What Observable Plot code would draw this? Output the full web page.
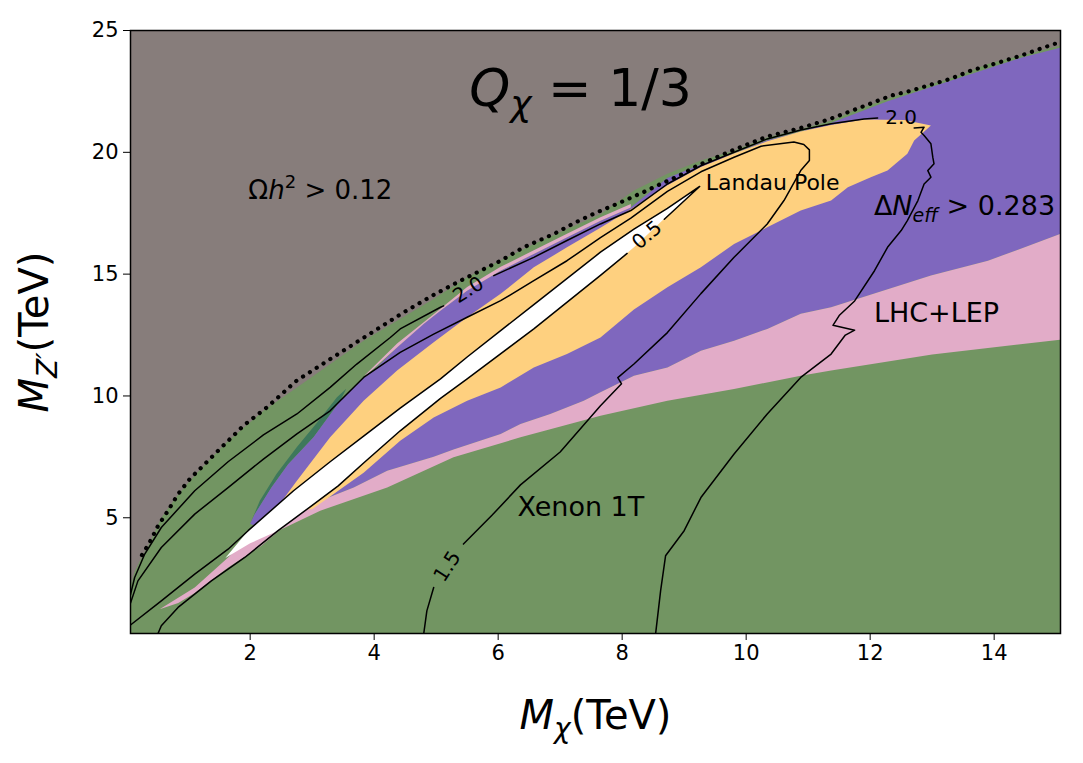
<!DOCTYPE html>
<html><head><meta charset="utf-8">
<script src="https://cdn.jsdelivr.net/npm/d3@7"></script>
<script src="https://cdn.jsdelivr.net/npm/@observablehq/plot@0.6"></script>
<style>body{margin:0;background:#fff;} svg{display:block;}</style>
</head><body>
<div id="chart"></div>
<script>
// ---------- axis ticks ----------
const xTicks = [2, 4, 6, 8, 10, 12, 14];
const yTicks = [5, 10, 15, 20, 25];

// ---------- region boundaries (M_chi TeV, M_Z' TeV) ----------
// upper edge of all coloured regions (boundary with Omega h^2 > 0.12)
const topEdge = [[0.07,2.2],[0.14,2.8],[0.255,3.4],[0.379,3.95],[0.567,5.0],[0.837,5.95],[1.106,6.75],[1.374,7.45],[1.644,8.15],[2.214,9.39],[2.754,10.35],[3.291,11.31],[3.829,12.27],[4.369,13.09],[4.906,13.9],[5.499,14.87],[6.575,16.24],[7.652,17.47],[8.19,18.43],[8.729,19.12],[9.268,19.66],[9.805,20.07],[10.344,20.62],[10.882,20.96],[11.366,21.3],[11.743,21.72],[12.282,22.2],[12.819,22.67],[13.357,23.08],[13.897,23.63],[14.435,23.97],[15.07,24.38]];
// relic-density boundary points (dotted)
const omegaDots = [[0.255,3.47],[0.379,3.99],[0.514,4.67],[0.675,5.29],[0.837,5.97],[1.025,6.59],[1.187,7.0],[1.348,7.41],[1.51,7.82],[1.73,8.37],[1.89,8.78],[2.27,9.53],[2.75,10.63],[3.67,12.13],[4.475,13.43],[4.96,14.15],[5.39,14.73],[6.04,15.55],[6.41,16.1],[6.9,16.65],[7.22,17.09],[7.57,17.51],[7.96,17.93],[8.33,18.35],[8.62,18.7],[8.89,19.0],[9.21,19.45],[9.8,20.1],[10.34,20.65],[10.88,21.0],[11.31,21.33],[11.74,21.74],[12.34,22.33],[12.66,22.53],[12.93,22.74],[13.3,23.02],[13.63,23.36],[14.0,23.63],[14.43,23.97],[14.97,24.45],[15.07,24.5]];
// Delta N_eff region
const purpleTop = [[2.0,4.75],[2.075,5.15],[2.343,6.24],[2.613,7.2],[3.022,8.3],[3.453,9.8],[3.829,10.76],[3.991,11.04],[4.369,11.99],[4.798,12.95],[5.068,13.5],[5.499,14.32],[6.037,15.14],[6.575,15.83],[7.114,16.51],[7.652,17.19],[8.137,17.74],[8.729,18.95],[9.268,19.5],[9.805,19.95],[10.344,20.5],[10.882,20.85],[11.366,21.2],[12.282,22.1],[13.357,22.99],[14.435,23.88],[15.07,24.3]];
const purpleBottom = [[2.0,4.75],[2.3,4.45],[2.59,5.15],[3.13,5.7],[3.67,6.24],[4.21,6.93],[4.96,7.5],[5.28,7.8],[6.04,8.44],[6.36,8.85],[6.84,9.26],[7.38,9.8],[7.65,10.15],[8.19,10.83],[8.73,11.17],[9.27,11.86],[9.805,12.27],[10.34,12.75],[10.88,13.37],[11.37,13.64],[12.98,14.94],[13.9,15.55],[15.07,16.65]];
// dark green sliver at the left tip of the Delta N_eff region
const darkStripOuter = [[2.0,4.75],[2.156,5.7],[2.424,6.8],[2.754,7.9],[3.077,8.9],[3.4,9.95],[3.55,10.3]];
const darkStripInner = [[2.0,4.75],[2.075,5.15],[2.343,6.24],[2.613,7.2],[3.022,8.3],[3.453,9.8],[3.55,10.3]];
// thin pink sliver above the purple band
const pinkSliverTop = [[3.85,10.85],[4.37,12.15],[4.96,13.35],[5.5,14.47],[6.04,15.3],[6.575,15.98],[7.11,16.66],[7.65,17.34],[8.14,17.88]];
const pinkSliverBottom = [[3.85,10.8],[4.369,11.99],[4.798,12.95],[5.068,13.5],[5.499,14.32],[6.037,15.14],[6.575,15.83],[7.114,16.51],[7.652,17.19],[8.14,17.74]];
// LHC+LEP region
const pinkTipTop = [[0.54,1.25],[1.106,2.14],[1.644,3.37],[1.967,4.2]];
const greenEdge = [[0.54,1.25],[0.84,1.5],[1.1,1.9],[1.64,2.95],[2.18,3.85],[2.48,4.5],[3.13,5.29],[4.21,6.24],[5.28,7.48],[6.36,8.3],[7.65,9.19],[8.73,9.8],[9.805,10.29],[10.88,10.83],[11.37,11.04],[13.0,11.7],[15.07,12.31]];
// Landau pole region
const yellowTop = [[2.4,5.3],[2.754,6.52],[3.29,8.3],[3.83,9.8],[4.37,11.04],[4.96,12.2],[5.5,13.23],[6.04,14.19],[6.575,15.28],[7.11,16.1],[7.65,16.9],[8.19,17.75],[8.73,18.65],[9.27,19.4],[9.805,19.95],[10.34,20.45],[10.88,20.85],[11.37,21.12],[11.9,21.35],[12.55,21.33],[12.98,21.1]];
const yellowBottom = [[2.4,5.3],[3.0,5.35],[3.83,6.85],[4.42,8.16],[4.96,9.12],[5.5,9.8],[6.04,10.35],[6.575,11.17],[7.11,11.72],[7.65,12.4],[8.19,13.55],[8.73,14.46],[9.27,15.28],[9.805,16.24],[10.34,16.92],[10.88,17.61],[11.37,18.02],[11.64,18.57],[12.01,18.98],[12.28,19.25],[12.6,19.94],[12.71,20.48],[12.98,21.1]];
// allowed (white) wedge
const whiteTop = [[1.6,3.35],[1.967,4.47],[2.7,6.11],[3.29,7.3],[3.83,8.35],[4.42,9.5],[5.07,10.7],[5.5,11.6],[6.575,13.75],[7.65,15.9],[8.19,16.85],[8.73,17.7],[9.25,18.6]];
const whiteBottom = [[1.6,3.35],[2.0,3.95],[2.45,4.47],[2.99,5.49],[3.42,6.31],[3.83,7.25],[4.42,8.57],[5.07,9.9],[5.5,10.7],[6.575,12.75],[7.65,14.95],[8.19,16.1],[8.73,17.4],[9.25,18.6]];

// ---------- contour lines (NaN = gap for inline label) ----------
const contour05 = [[0.514,0.25],[0.567,0.565],[0.837,1.32],[1.374,2.41],[1.913,3.37],[2.45,4.47],[2.99,5.49],[3.42,6.31],[3.83,7.25],[4.42,8.57],[5.07,9.9],[5.5,10.7],[6.575,12.75],[7.65,14.95],[8.08,15.85],[NaN,NaN],[8.68,17.25],[9.25,18.6],[8.73,17.7],[8.19,16.85],[7.65,15.9],[6.575,13.75],[5.5,11.6],[5.07,10.7],[4.42,9.5],[3.83,8.35],[3.29,7.3],[2.7,6.11],[1.967,4.47],[1.644,3.71],[1.106,2.69],[0.567,1.59],[0.07,0.6]];
const contour15 = [[0.07,1.5],[0.19,2.41],[0.567,3.78],[1.106,5.15],[1.644,6.24],[2.214,7.41],[2.754,8.44],[3.29,9.39],[3.83,10.76],[4.42,11.79],[4.96,12.54],[5.5,13.23],[6.04,13.91],[6.575,14.73],[7.11,15.55],[7.65,16.5],[8.14,17.3],[8.73,18.4],[9.27,19.2],[9.805,19.8],[10.24,20.25],[10.77,20.42],[10.93,20.32],[11.02,20.1],[11.02,19.66],[10.88,19.25],[10.61,18.02],[10.34,17.06],[9.805,15.69],[9.27,14.2],[8.73,12.6],[8.19,11.31],[7.93,10.75],[7.99,10.5],[7.65,9.6],[7.0,7.7],[6.36,6.35],[5.9,5.1],[5.44,3.92],[NaN,NaN],[4.96,2.14],[4.85,1.18],[4.8,0.25]];
const contour20 = [[0.07,1.85],[0.137,2.55],[0.3,3.51],[0.567,4.6],[1.106,6.11],[1.644,7.3],[2.214,8.4],[2.754,9.26],[3.29,10.35],[3.72,11.31],[4.26,12.4],[4.42,12.75],[5.07,13.64],[5.12,13.7],[NaN,NaN],[5.93,14.94],[6.575,15.69],[7.11,16.38],[7.65,17.06],[8.14,17.61],[8.73,18.7],[9.27,19.45],[9.805,20.0],[10.34,20.55],[10.88,20.92],[11.37,21.17],[11.9,21.37],[12.12,21.41],[NaN,NaN],[12.71,21.0],[12.87,21.03],[12.82,20.82],[12.87,20.69],[12.98,20.35],[13.01,19.8],[13.03,19.53],[12.93,19.25],[12.98,18.98],[12.87,18.7],[12.77,18.02],[12.6,17.2],[12.5,16.79],[12.28,16.1],[12.07,15.14],[11.75,13.9],[11.5,13.3],[11.4,12.9],[11.75,12.7],[11.6,12.5],[11.37,11.72],[10.88,10.76],[10.34,9.26],[9.805,7.62],[9.27,5.83],[9.0,4.47],[8.7,3.44],[8.62,2.0],[8.54,0.25]];
const contourLabels = [
  {x:5.52, y:14.35, text:"2.0", rotate:-32},
  {x:12.5, y:21.42, text:"2.0", rotate:0},
  {x:8.4,  y:16.6,  text:"0.5", rotate:-40},
  {x:5.18, y:3.0,   text:"1.5", rotate:-57}
];
// ---------- annotations ----------
const regionLabels = [
  {x:1.97,  y:18.43, text:"Ωh2 > 0.12", size:26},
  {x:9.35,  y:18.75, text:"Landau Pole", size:22},
  {x:12.06, y:17.8,  text:"ΔNeff > 0.283", size:27},
  {x:12.06, y:13.37, text:"LHC+LEP", size:27},
  {x:6.31,  y:5.41,  text:"Xenon 1T", size:27}
];
const title = {x:7.33, y:22.6, text:"Qχ = 1/3"};
const xTitle = "Mχ(TeV)";
const yTitle = "MZ'(TeV)";

const C = {gray:"#877d7b", green:"#729562", dark:"#3e785c", purple:"#7f67be", pink:"#e2acc8", yellow:"#fed07f", white:"#ffffff"};

const P = arr => arr.map(([x, y]) => ({x, y}));
const poly = (upper, lower) => P(upper.concat(lower.slice().reverse()));
const region = (pts, fill) => Plot.line(pts, {x:"x", y:"y", fill, stroke:"none", clip:true});
const contour = arr => Plot.line(P(arr), {x:"x", y:"y", stroke:"black", strokeWidth:1.5, clip:true, strokeLinejoin:"round"});

const greenPoly = P(topEdge.concat([[15.07,0.25],[0.07,0.25]]));

const svg = Plot.plot({
  width: 1083, height: 763,
  marginLeft: 130, marginRight: 23, marginTop: 30, marginBottom: 130,
  style: {fontFamily: "DejaVu Sans", fontSize: "21px", background: "#ffffff", color: "black"},
  x: {domain: [0.07, 15.07], ticks: xTicks, tickSize: 7, tickPadding: 5, label: null},
  y: {domain: [0.25, 25], ticks: yTicks, tickSize: 7, tickPadding: 5, label: null},
  marks: [
    Plot.frame({fill: C.gray, stroke: "none"}),
    region(greenPoly, C.green),
    region(poly(darkStripOuter, darkStripInner), C.dark),
    region(poly(purpleTop, purpleBottom), C.purple),
    region(poly(pinkSliverTop, pinkSliverBottom), C.pink),
    region(poly(pinkTipTop.concat(purpleBottom.slice(1)), greenEdge), C.pink),
    region(poly(yellowTop, yellowBottom), C.yellow),
    region(poly(whiteTop, whiteBottom), C.white),
    Plot.line(P(omegaDots), {x:"x", y:"y", stroke:"black", strokeWidth:4.2, strokeDasharray:"0.1,8", strokeLinecap:"round", clip:true}),
    contour(contour05),
    contour(contour15),
    contour(contour20),
    Plot.text(contourLabels, {x:"x", y:"y", text:"text", rotate:"rotate", fontSize:20, fill:"black"}),
    Plot.text(regionLabels, {x:"x", y:"y", text:"text", fontSize:d => d.size, textAnchor:"start", fill:"black"}),
    Plot.text([title], {x:"x", y:"y", text:"text", fontSize:52, fill:"black"}),
    Plot.text([xTitle], {frameAnchor:"bottom", dy:83, text:d => d, fontSize:40, textAnchor:"middle", lineAnchor:"middle", fill:"black"}),
    Plot.text([yTitle], {frameAnchor:"left", dx:-95, rotate:-90, text:d => d, fontSize:40, textAnchor:"middle", lineAnchor:"middle", fill:"black"}),
    Plot.frame({stroke:"black", strokeWidth:1.5})
  ]
});
document.getElementById("chart").appendChild(svg);

// rich (math-style) text: italic symbols, sub/superscripts
const rich = {
  "Qχ = 1/3": '<tspan font-style="italic">Q</tspan><tspan font-style="italic" font-size="36" dy="10">χ</tspan><tspan dy="-10"> = 1/3</tspan>',
  "Mχ(TeV)": '<tspan font-style="italic">M</tspan><tspan font-style="italic" font-size="28" dy="9">χ</tspan><tspan dy="-9">(TeV)</tspan>',
  "MZ'(TeV)": '<tspan font-style="italic">M</tspan><tspan font-style="italic" font-size="28" dy="9">Z′</tspan><tspan dy="-9">(TeV)</tspan>',
  "Ωh2 > 0.12": 'Ω<tspan font-style="italic">h</tspan><tspan font-size="18" dy="-11">2</tspan><tspan dy="11"> &gt; 0.12</tspan>',
  "ΔNeff > 0.283": 'Δ<tspan font-style="italic">N</tspan><tspan font-style="italic" font-size="19" dy="7">eff</tspan><tspan dy="-7"> &gt; 0.283</tspan>'
};
svg.querySelectorAll("text").forEach(t => {
  const s = t.textContent;
  if (rich[s]) t.innerHTML = rich[s];
});
</script>
</body></html>
